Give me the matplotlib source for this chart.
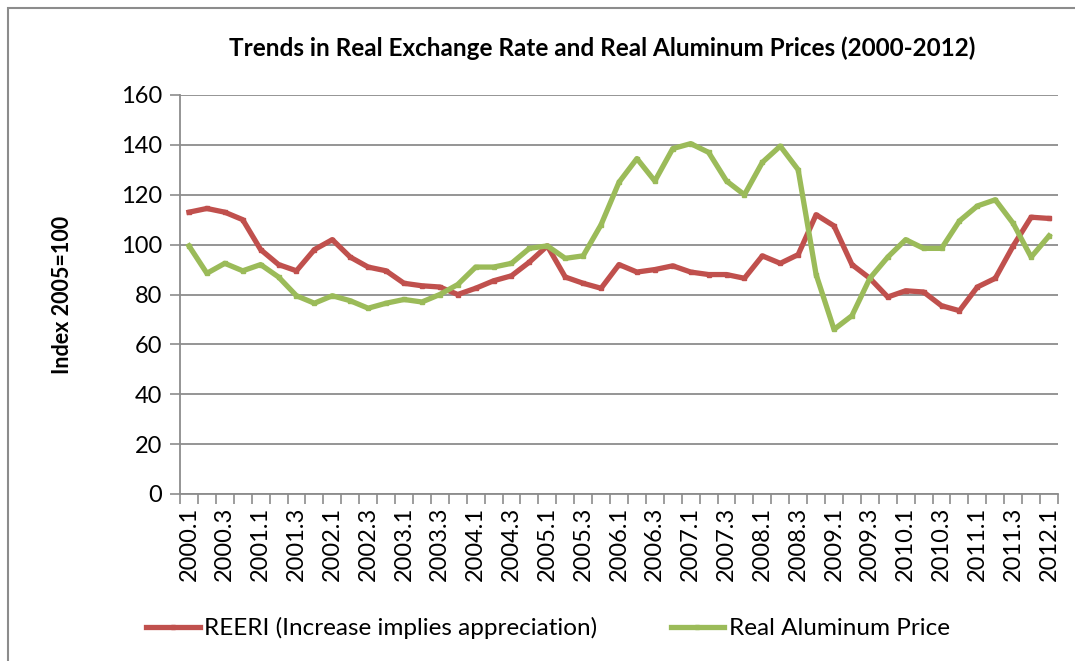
import numpy as np
import matplotlib
matplotlib.use('Agg')
import matplotlib.pyplot as plt
from matplotlib.patches import Rectangle

plt.rcParams['font.family'] = ['Lato', 'DejaVu Sans']

# Кварталы 2000.1 - 2012.1
quarters = [f'{y}.{q}' for y in range(2000, 2013) for q in range(1, 5)][:49]

reeri = [113, 114.5, 113, 110, 98, 92, 89.5, 98, 102, 95, 91, 89.5,
         84.5, 83.5, 83, 80, 82.5, 85.5, 87.5, 93, 99.5, 87, 84.5, 82.5,
         92, 89, 90, 91.5, 89, 88, 88, 86.5, 95.5, 92.5, 96, 112,
         107.5, 92, 86.5, 79, 81.5, 81, 75.5, 73.5, 83, 86.5, 99.5, 111, 110.5]

aluminum = [99.5, 88.5, 92.5, 89.5, 92, 87, 79.5, 76.5, 79.5, 77.5, 74.5, 76.5,
            78, 77, 80, 84, 91, 91, 92.5, 98.5, 99.5, 94.5, 95.5, 108,
            125, 134.5, 125.5, 138.5, 140.5, 137, 125.5, 120, 133, 139.5, 130, 88,
            66, 71.5, 86.5, 95, 102, 98.5, 98.5, 109.5, 115.5, 118, 108.5, 95, 103.5]

fig = plt.figure(figsize=(10.75, 6.61), dpi=100)
ax = fig.add_axes([180 / 1075, 1 - 494 / 661, 878 / 1075, 399 / 661])

# рамка области диаграммы
fig.patches.append(Rectangle((8 / 1075, -0.1), 1.2, 1 - 8 / 661 + 0.1,
                             transform=fig.transFigure, fill=False,
                             edgecolor='#8c8c8c', linewidth=1.5))

x = np.arange(len(quarters))
ax.plot(x, reeri, color='#C0504D', linewidth=3.8, marker='s', markersize=3.5,
        label='REERI (Increase implies appreciation)')
ax.plot(x, aluminum, color='#9BBB59', linewidth=3.8, marker='s', markersize=3.5,
        label='Real Aluminum Price')

ax.set_xlim(-0.5, len(quarters) - 0.5)
ax.set_ylim(0, 160)
ax.set_yticks(range(0, 161, 20))
ax.yaxis.grid(True, color='#8c8c8c', linewidth=1.3)
ax.set_axisbelow(True)

ax.set_xticks(x[::2])
ax.set_xticklabels(quarters[::2], rotation=90, fontsize=17)
ax.set_xticks(np.arange(-0.5, len(quarters)), minor=True)
ax.tick_params(axis='x', which='major', length=0, pad=9)
ax.tick_params(axis='x', which='minor', length=7, width=1.2, color='#8c8c8c')
ax.tick_params(axis='y', length=7, width=1.2, color='#8c8c8c', labelsize=17, pad=6)

for s in ['top', 'right']:
    ax.spines[s].set_visible(False)
for s in ['left', 'bottom']:
    ax.spines[s].set_color('#8c8c8c')
    ax.spines[s].set_linewidth(1.3)

ax.set_ylabel('Index 2005=100', fontsize=15.5, fontweight='bold', labelpad=34)
fig.text(602 / 1075, 1 - 48 / 661, 'Trends in Real Exchange Rate and Real Aluminum Prices (2000-2012)',
         ha='center', va='center', fontsize=17.5, fontweight='bold')

fig.legend(loc='center', bbox_to_anchor=(548 / 1075, 1 - 628 / 661), ncol=2,
           frameon=False, fontsize=17.5, handlelength=2.2, columnspacing=3.0,
           handletextpad=0.2)

fig.savefig('out.png', dpi=100)
